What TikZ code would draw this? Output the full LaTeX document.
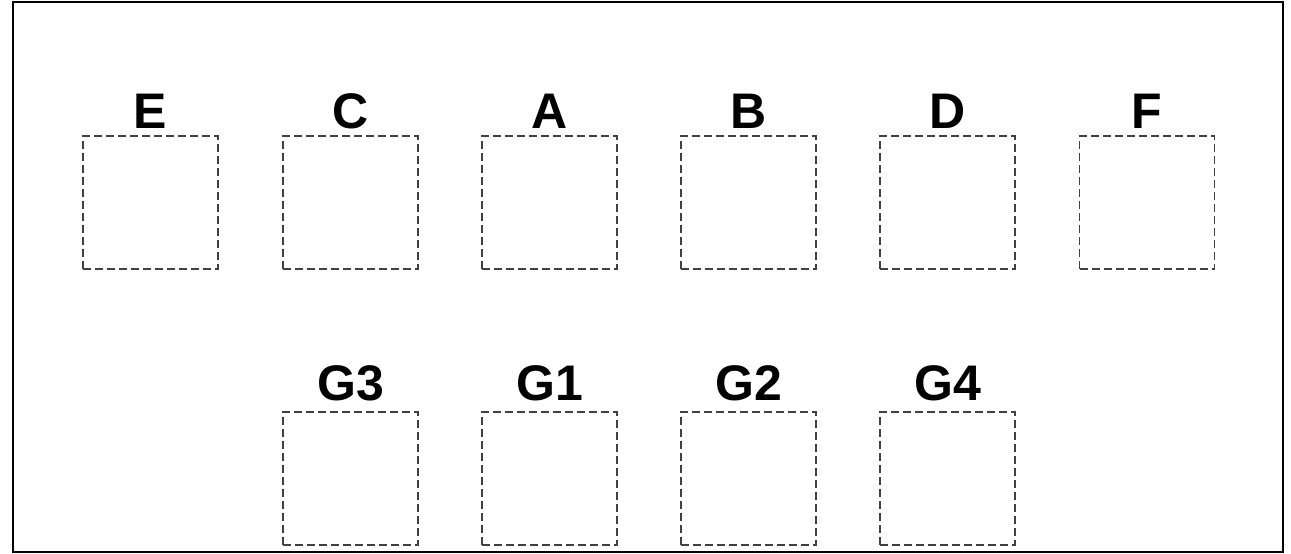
\documentclass[tikz,border=0pt]{standalone}
\usepackage{fontspec}
\setmainfont{Liberation Sans}
\begin{document}
\begin{tikzpicture}[x=1pt,y=-1pt,
  slot/.style={draw=black!75, line width=1.1pt, dash pattern=on 8pt off 4pt,
    minimum width=135pt, minimum height=133pt, inner sep=0pt},
  lbl/.style={anchor=base, inner sep=0pt, font=\fontsize{50}{50}\selectfont\bfseries}]
\useasboundingbox (0,0) rectangle (1291,554);
\draw[line width=2pt] (13,2) rectangle (1283,552);
% row 1
\foreach \n/\x in {E/150.5, C/350.5, A/549.5, B/748.5, D/947.5, F/1147} {
  \node[slot] (box\n) at (\x,202.5) {};
  \node[lbl] (lab\n) at (\x,128) {\n};
}
% row 2
\foreach \n/\x in {G3/350.5, G1/549.5, G2/748.5, G4/947.5} {
  \node[slot] (box\n) at (\x,478.5) {};
  \node[lbl] (lab\n) at (\x,400) {\n};
}
\end{tikzpicture}
\end{document}
